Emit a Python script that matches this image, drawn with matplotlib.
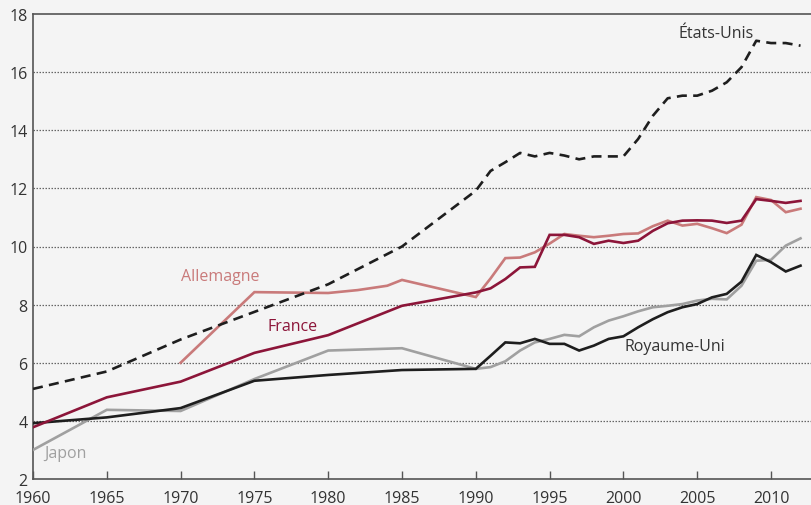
import matplotlib
matplotlib.use("Agg")
import matplotlib.pyplot as plt

# ---- data ----
us_years = [1960, 1965, 1970, 1975, 1980, 1985, 1990, 1991, 1992, 1993, 1994, 1995, 1996,
            1997, 1998, 1999, 2000, 2001, 2002, 2003, 2004, 2005, 2006, 2007, 2008, 2009,
            2010, 2011, 2012]
us_vals = [5.1, 5.7, 6.8, 7.75, 8.7, 10.0, 11.92, 12.6, 12.9, 13.22, 13.1, 13.22, 13.13,
           13.0, 13.1, 13.1, 13.1, 13.7, 14.5, 15.1, 15.19, 15.19, 15.36, 15.65, 16.17, 17.08,
           17.0, 17.0, 16.91]

fr_years = [1960, 1965, 1970, 1975, 1980, 1985, 1990, 1991, 1992, 1993, 1994, 1995, 1996,
            1997, 1998, 1999, 2000, 2001, 2002, 2003, 2004, 2005, 2006, 2007, 2008, 2009,
            2010, 2011, 2012]
fr_vals = [3.78, 4.81, 5.35, 6.34, 6.95, 7.96, 8.42, 8.56, 8.88, 9.28, 9.3, 10.4, 10.4,
           10.32, 10.09, 10.2, 10.12, 10.2, 10.54, 10.8, 10.89, 10.9, 10.89, 10.81, 10.89, 11.63,
           11.57, 11.5, 11.57]

de_years = [1970, 1975, 1980, 1982, 1984, 1985, 1990, 1991, 1992, 1993, 1994, 1995, 1996,
            1997, 1998, 1999, 2000, 2001, 2002, 2003, 2004, 2005, 2006, 2007, 2008, 2009,
            2010, 2011, 2012]
de_vals = [6.0, 8.43, 8.4, 8.5, 8.65, 8.85, 8.26, 8.9, 9.6, 9.62, 9.8, 10.1, 10.43,
           10.37, 10.32, 10.37, 10.43, 10.45, 10.7, 10.89, 10.72, 10.78, 10.63, 10.46, 10.75, 11.7,
           11.6, 11.18, 11.3]

jp_years = [1960, 1965, 1970, 1975, 1980, 1985, 1990, 1991, 1992, 1993, 1994, 1995, 1996,
            1997, 1998, 1999, 2000, 2001, 2002, 2003, 2004, 2005, 2006, 2007, 2008, 2009,
            2010, 2011, 2012]
jp_vals = [3.0, 4.38, 4.34, 5.44, 6.42, 6.5, 5.79, 5.85, 6.05, 6.42, 6.7, 6.82, 6.96,
           6.91, 7.22, 7.45, 7.6, 7.77, 7.91, 7.96, 8.02, 8.14, 8.2, 8.18, 8.65, 9.51,
           9.54, 10.03, 10.28]

uk_years = [1960, 1965, 1970, 1975, 1980, 1985, 1990, 1991, 1992, 1993, 1994, 1995, 1996,
            1997, 1998, 1999, 2000, 2001, 2002, 2003, 2004, 2005, 2006, 2007, 2008, 2009,
            2010, 2011, 2012]
uk_vals = [3.92, 4.12, 4.44, 5.38, 5.58, 5.75, 5.79, 6.24, 6.7, 6.67, 6.82, 6.65, 6.65,
           6.42, 6.59, 6.82, 6.91, 7.22, 7.5, 7.74, 7.91, 8.02, 8.25, 8.37, 8.79, 9.71,
           9.46, 9.14, 9.34]

x_ticks = [1960, 1965, 1970, 1975, 1980, 1985, 1990, 1995, 2000, 2005, 2010]
y_ticks = [2, 4, 6, 8, 10, 12, 14, 16, 18]

# ---- style ----
plt.rcParams['font.family'] = ['Open Sans', 'DejaVu Sans']
BG = '#f4f4f4'
C_US = '#1e1e1e'
C_FR = '#8c1539'
C_DE = '#c97a7a'
C_JP = '#a0a0a0'
C_UK = '#1e1e1e'
TXT = '#333333'

fig = plt.figure(figsize=(8.11, 5.06), dpi=100, facecolor=BG)
ax = fig.add_axes([33/811, 1 - 480/506, 778/811, 465/506], facecolor=BG)

ax.set_xlim(1960, 2012.71)
ax.set_ylim(2, 18)

for y in y_ticks[1:-1]:
    ax.axhline(y, color='#666666', lw=0.9, ls=(0, (1.2, 1.2)), zorder=1)

lw = 1.9
ax.plot(jp_years, jp_vals, color=C_JP, lw=lw, zorder=3, solid_joinstyle='miter')
ax.plot(uk_years, uk_vals, color=C_UK, lw=lw, zorder=4, solid_joinstyle='miter')
ax.plot(de_years, de_vals, color=C_DE, lw=lw, zorder=3, solid_joinstyle='miter')
ax.plot(fr_years, fr_vals, color=C_FR, lw=lw, zorder=4, solid_joinstyle='miter')
ax.plot(us_years, us_vals, color=C_US, lw=lw, ls=(0, (3.8, 2.4)), zorder=5)

ax.text(2003.7, 17.35, 'États-Unis', color=TXT, fontsize=11.5, ha='left', va='center')
ax.text(1970.0, 9.0, 'Allemagne', color=C_DE, fontsize=11.5, ha='left', va='center')
ax.text(1975.9, 7.27, 'France', color=C_FR, fontsize=11.5, ha='left', va='center')
ax.text(2000.1, 6.59, 'Royaume-Uni', color=TXT, fontsize=11.5, ha='left', va='center')
ax.text(1960.75, 2.9, 'Japon', color=C_JP, fontsize=11.5, ha='left', va='center')

for s in ['right']:
    ax.spines[s].set_visible(False)
for s in ['left', 'top', 'bottom']:
    ax.spines[s].set_color('#555555')
    ax.spines[s].set_linewidth(1.2)

ax.set_xticks(x_ticks)
ax.set_yticks(y_ticks)
ax.tick_params(axis='x', direction='in', length=6, width=1, color='#555555',
               labelsize=11.5, labelcolor=TXT, pad=8)
ax.tick_params(axis='y', length=0, labelsize=11.5, labelcolor=TXT, pad=4)

fig.savefig('out.png', dpi=100, facecolor=BG)
